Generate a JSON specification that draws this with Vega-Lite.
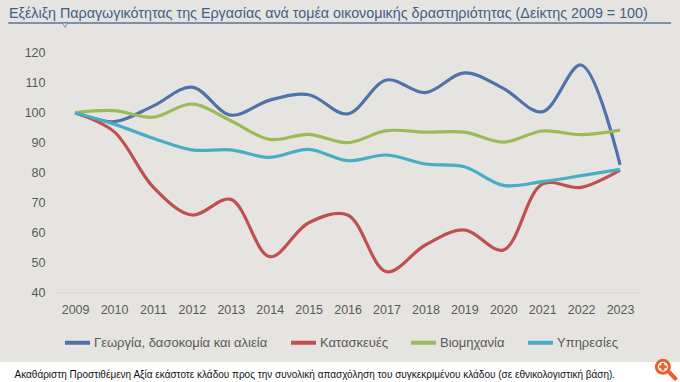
{
  "$schema": "https://vega.github.io/schema/vega-lite/v6.json",
  "width": 680,
  "height": 362,
  "autosize": "none",
  "padding": {"left": 0, "top": 0, "right": 0, "bottom": 20},
  "background": "white",
  "title": {
    "text": "Εξέλιξη Παραγωγικότητας της Εργασίας ανά τομέα οικονομικής δραστηριότητας (Δείκτης 2009 = 100)",
    "anchor": "start",
    "frame": "group",
    "orient": "top",
    "offset": -32,
    "dx": 9,
    "baseline": "alphabetic",
    "font": "Liberation Sans",
    "fontSize": 14.3,
    "fontWeight": "normal",
    "color": "#3f5f8a",
    "limit": 680
  },
  "config": {
    "view": {"fill": "#e5e4e0", "stroke": null},
    "font": "Liberation Sans"
  },
  "data": {
    "values": [
      {"year": 2009, "sector": "Γεωργία, δασοκομία και αλιεία", "value": 100},
      {"year": 2010, "sector": "Γεωργία, δασοκομία και αλιεία", "value": 97},
      {"year": 2011, "sector": "Γεωργία, δασοκομία και αλιεία", "value": 102.2},
      {"year": 2012, "sector": "Γεωργία, δασοκομία και αλιεία", "value": 108.5},
      {"year": 2013, "sector": "Γεωργία, δασοκομία και αλιεία", "value": 99.2},
      {"year": 2014, "sector": "Γεωργία, δασοκομία και αλιεία", "value": 104.2},
      {"year": 2015, "sector": "Γεωργία, δασοκομία και αλιεία", "value": 106},
      {"year": 2016, "sector": "Γεωργία, δασοκομία και αλιεία", "value": 99.6},
      {"year": 2017, "sector": "Γεωργία, δασοκομία και αλιεία", "value": 110.9},
      {"year": 2018, "sector": "Γεωργία, δασοκομία και αλιεία", "value": 106.7},
      {"year": 2019, "sector": "Γεωργία, δασοκομία και αλιεία", "value": 113.3},
      {"year": 2020, "sector": "Γεωργία, δασοκομία και αλιεία", "value": 108.1},
      {"year": 2021, "sector": "Γεωργία, δασοκομία και αλιεία", "value": 100.3},
      {"year": 2022, "sector": "Γεωργία, δασοκομία και αλιεία", "value": 115.9},
      {"year": 2023, "sector": "Γεωργία, δασοκομία και αλιεία", "value": 82.6},
      {"year": 2009, "sector": "Κατασκευές", "value": 100},
      {"year": 2010, "sector": "Κατασκευές", "value": 93.7},
      {"year": 2011, "sector": "Κατασκευές", "value": 75.3},
      {"year": 2012, "sector": "Κατασκευές", "value": 65.9},
      {"year": 2013, "sector": "Κατασκευές", "value": 71.1},
      {"year": 2014, "sector": "Κατασκευές", "value": 52},
      {"year": 2015, "sector": "Κατασκευές", "value": 63.3},
      {"year": 2016, "sector": "Κατασκευές", "value": 65.9},
      {"year": 2017, "sector": "Κατασκευές", "value": 47},
      {"year": 2018, "sector": "Κατασκευές", "value": 55.9},
      {"year": 2019, "sector": "Κατασκευές", "value": 60.9},
      {"year": 2020, "sector": "Κατασκευές", "value": 54.2},
      {"year": 2021, "sector": "Κατασκευές", "value": 76.2},
      {"year": 2022, "sector": "Κατασκευές", "value": 75.1},
      {"year": 2023, "sector": "Κατασκευές", "value": 80.9},
      {"year": 2009, "sector": "Βιομηχανία", "value": 100},
      {"year": 2010, "sector": "Βιομηχανία", "value": 100.7},
      {"year": 2011, "sector": "Βιομηχανία", "value": 98.5},
      {"year": 2012, "sector": "Βιομηχανία", "value": 102.9},
      {"year": 2013, "sector": "Βιομηχανία", "value": 97.3},
      {"year": 2014, "sector": "Βιομηχανία", "value": 91.1},
      {"year": 2015, "sector": "Βιομηχανία", "value": 92.8},
      {"year": 2016, "sector": "Βιομηχανία", "value": 90},
      {"year": 2017, "sector": "Βιομηχανία", "value": 94},
      {"year": 2018, "sector": "Βιομηχανία", "value": 93.5},
      {"year": 2019, "sector": "Βιομηχανία", "value": 93.5},
      {"year": 2020, "sector": "Βιομηχανία", "value": 90.2},
      {"year": 2021, "sector": "Βιομηχανία", "value": 93.9},
      {"year": 2022, "sector": "Βιομηχανία", "value": 92.7},
      {"year": 2023, "sector": "Βιομηχανία", "value": 94.2},
      {"year": 2009, "sector": "Υπηρεσίες", "value": 100},
      {"year": 2010, "sector": "Υπηρεσίες", "value": 96.2},
      {"year": 2011, "sector": "Υπηρεσίες", "value": 91.5},
      {"year": 2012, "sector": "Υπηρεσίες", "value": 87.6},
      {"year": 2013, "sector": "Υπηρεσίες", "value": 87.6},
      {"year": 2014, "sector": "Υπηρεσίες", "value": 85.1},
      {"year": 2015, "sector": "Υπηρεσίες", "value": 87.8},
      {"year": 2016, "sector": "Υπηρεσίες", "value": 84},
      {"year": 2017, "sector": "Υπηρεσίες", "value": 85.9},
      {"year": 2018, "sector": "Υπηρεσίες", "value": 82.9},
      {"year": 2019, "sector": "Υπηρεσίες", "value": 82},
      {"year": 2020, "sector": "Υπηρεσίες", "value": 75.8},
      {"year": 2021, "sector": "Υπηρεσίες", "value": 77},
      {"year": 2022, "sector": "Υπηρεσίες", "value": 79},
      {"year": 2023, "sector": "Υπηρεσίες", "value": 81.1}
    ]
  },
  "layer": [
    {
      "data": {"values": [{}]},
      "mark": {"type": "rule", "color": "#d9d9d9", "strokeWidth": 1},
      "encoding": {
        "x": {"datum": 2008.49, "type": "quantitative"},
        "x2": {"datum": 2023.51},
        "y": {"datum": 40, "type": "quantitative"}
      }
    },
    {
      "data": {"values": [{}]},
      "mark": {"type": "rule", "color": "#5a7598", "strokeWidth": 1.5},
      "encoding": {
        "x": {"datum": 2007.28, "type": "quantitative"},
        "x2": {"datum": 2024.31},
        "y": {"datum": 129.9, "type": "quantitative"}
      }
    },
    {
      "data": {"values": [{}]},
      "mark": {"type": "point", "shape": "triangle-down", "filled": true, "fill": "#e5e4e0", "stroke": "#5a7598", "strokeWidth": 1, "size": 30},
      "encoding": {
        "x": {"datum": 2008.74, "type": "quantitative"},
        "y": {"datum": 129.2, "type": "quantitative"}
      }
    },
    {
      "data": {"values": [{}]},
      "mark": {"type": "rule", "color": "#e8602c", "strokeWidth": 4, "strokeCap": "round", "clip": false},
      "encoding": {
        "x": {"datum": 2024.27, "type": "quantitative"},
        "x2": {"datum": 2024.42},
        "y": {"datum": 13.4, "type": "quantitative"},
        "y2": {"datum": 11.4}
      }
    },
    {
      "data": {"values": [{}]},
      "mark": {"type": "point", "shape": "circle", "filled": false, "stroke": "#e8602c", "strokeWidth": 3, "size": 170, "opacity": 1, "clip": false},
      "encoding": {
        "x": {"datum": 2024.1, "type": "quantitative"},
        "y": {"datum": 15.3, "type": "quantitative"}
      }
    },
    {
      "data": {"values": [{}]},
      "mark": {"type": "point", "shape": "cross", "filled": true, "fill": "#e8602c", "strokeWidth": 0, "size": 55, "opacity": 1, "clip": false},
      "encoding": {
        "x": {"datum": 2024.1, "type": "quantitative"},
        "y": {"datum": 15.3, "type": "quantitative"}
      }
    },
    {
      "mark": {"type": "line", "interpolate": "catmull-rom", "strokeWidth": 3.2},
      "encoding": {
        "x": {
          "field": "year",
          "type": "quantitative",
          "scale": {"domain": [2007.07, 2024.54], "nice": false, "zero": false},
          "axis": {
            "orient": "bottom",
            "offset": -70,
            "values": [2009, 2010, 2011, 2012, 2013, 2014, 2015, 2016, 2017, 2018, 2019, 2020, 2021, 2022, 2023],
            "format": "d",
            "domain": false,
            "ticks": false,
            "grid": false,
            "labelPadding": 11,
            "labelFontSize": 12.5,
            "labelColor": "#595959",
            "title": "Ακαθάριστη Προστιθέμενη Αξία εκάστοτε κλάδου προς την συνολική απασχόληση του συγκεκριμένου κλάδου (σε εθνικολογιστική βάση).",
            "titleX": 14,
            "titleY": 82,
            "titleAlign": "left",
            "titleAnchor": "start",
            "titleBaseline": "middle",
            "titleFont": "Liberation Sans",
            "titleFontSize": 10,
            "titleFontWeight": "normal",
            "titleColor": "#111111",
            "titleLimit": 680
          }
        },
        "y": {
          "field": "value",
          "type": "quantitative",
          "scale": {"domain": [16.9, 137.57], "nice": false, "zero": false},
          "axis": {
            "orient": "left",
            "offset": -48,
            "values": [40, 50, 60, 70, 80, 90, 100, 110, 120],
            "domain": false,
            "ticks": false,
            "grid": false,
            "labelPadding": 3,
            "labelFontSize": 12.5,
            "labelColor": "#595959",
            "title": null
          }
        },
        "color": {
          "field": "sector",
          "type": "nominal",
          "scale": {
            "domain": ["Γεωργία, δασοκομία και αλιεία", "Κατασκευές", "Βιομηχανία", "Υπηρεσίες"],
            "range": ["#4f73a8", "#c0504d", "#9bbb59", "#4bacc6"]
          },
          "legend": {
            "orient": "none",
            "legendX": 63,
            "legendY": 328,
            "direction": "horizontal",
            "title": null,
            "symbolType": "stroke",
            "symbolSize": 625,
            "symbolStrokeWidth": 4,
            "labelFontSize": 13,
            "labelColor": "#595959",
            "labelOffset": 2,
            "labelLimit": 300,
            "columnPadding": 15,
            "padding": 0
          }
        }
      }
    }
  ]
}
